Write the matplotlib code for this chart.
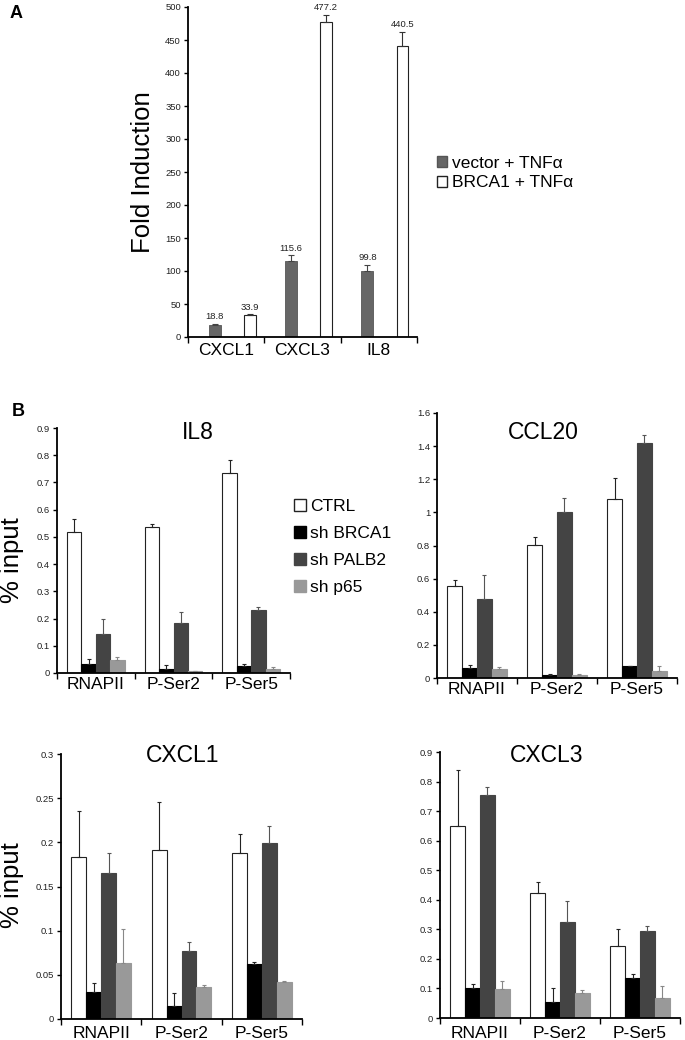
import numpy as np
import matplotlib.pyplot as plt
from matplotlib.patches import Patch
from matplotlib.ticker import FuncFormatter

plt.rcParams['font.family'] = ['Liberation Sans', 'DejaVu Sans']

# ---- Panel A: fold induction ----
genes_a = ['CXCL1', 'CXCL3', 'IL8']
vector_tnf = [18.8, 115.6, 99.8]
vector_err = [1.4, 8, 10]
brca1_tnf = [33.9, 477.2, 440.5]
brca1_err = [0.5, 11, 22]

# ---- Panel B: ChIP % input ----
targets = ['RNAPII', 'P-Ser2', 'P-Ser5']
series_b = ['CTRL', 'sh BRCA1', 'sh PALB2', 'sh p65']

il8_vals = [[0.519, 0.537, 0.736],
            [0.033, 0.013, 0.026],
            [0.143, 0.182, 0.231],
            [0.049, 0.006, 0.015]]
il8_err = [[0.045, 0.010, 0.046],
           [0.018, 0.015, 0.006],
           [0.057, 0.043, 0.012],
           [0.011, 0.003, 0.008]]

ccl20_vals = [[0.553, 0.806, 1.083],
              [0.058, 0.016, 0.070],
              [0.477, 1.005, 1.420],
              [0.054, 0.016, 0.042]]
ccl20_err = [[0.039, 0.048, 0.127],
             [0.020, 0.008, 0.004],
             [0.145, 0.080, 0.045],
             [0.014, 0.006, 0.030]]

cxcl1_vals = [[0.183, 0.191, 0.188],
              [0.031, 0.015, 0.062],
              [0.165, 0.077, 0.199],
              [0.063, 0.036, 0.042]]
cxcl1_err = [[0.052, 0.055, 0.021],
             [0.010, 0.014, 0.002],
             [0.023, 0.010, 0.020],
             [0.039, 0.003, 0.001]]

cxcl3_vals = [[0.648, 0.424, 0.244],
              [0.102, 0.053, 0.137],
              [0.755, 0.325, 0.294],
              [0.097, 0.085, 0.068]]
cxcl3_err = [[0.190, 0.037, 0.057],
             [0.012, 0.050, 0.013],
             [0.026, 0.070, 0.018],
             [0.028, 0.011, 0.040]]

W, H = 685, 1040
fig = plt.figure(figsize=(W / 100, H / 100), dpi=100)


def px_axes(x0, y0, x1, y1):
    return fig.add_axes([x0 / W, 1 - y1 / H, (x1 - x0) / W, (y1 - y0) / H])


def style(ax, labels, ymax, step, xpad=3):
    ax.spines[['top', 'right']].set_visible(False)
    ax.spines[['left', 'bottom']].set_linewidth(1.3)
    ax.set_ylim(0, ymax)
    ax.set_yticks(np.round(np.arange(0, ymax + step / 2, step), 4))
    ax.yaxis.set_major_formatter(FuncFormatter(lambda v, p: f'{v:g}'))
    ax.tick_params(axis='y', labelsize=6.8, length=3, width=1, pad=2, labelcolor='#222222')
    ax.set_xlim(-0.5, 2.5)
    ax.set_xticks([-0.5, 0.5, 1.5, 2.5])
    ax.set_xticklabels([])
    ax.set_xticks(range(3), labels, minor=True)
    ax.tick_params(axis='x', which='major', length=4, width=1)
    ax.tick_params(axis='x', which='minor', length=0, labelsize=12.5, pad=xpad)


# Panel A
axa = px_axes(188, 7, 417, 337)
xa = np.arange(3)
w_a = 0.155
axa.bar(xa - 0.15, vector_tnf, w_a, color='#666666', edgecolor='#555555', linewidth=0.6,
        yerr=[np.zeros(3), vector_err], error_kw=dict(ecolor='#444444', elinewidth=0.8, capsize=2, capthick=0.8))
axa.bar(xa + 0.31, brca1_tnf, w_a, color='white', edgecolor='#222222', linewidth=0.8,
        yerr=[np.zeros(3), brca1_err], error_kw=dict(ecolor='#333333', elinewidth=0.8, capsize=2, capthick=0.8))
for x, v, e in zip(xa - 0.15, vector_tnf, vector_err):
    axa.annotate(f'{v:.1f}', (x, v + e), xytext=(0, 2), textcoords='offset points',
                 ha='center', va='bottom', fontsize=6.8, color='#222222')
for x, v, e in zip(xa + 0.31, brca1_tnf, brca1_err):
    axa.annotate(f'{v:.1f}', (x, v + e), xytext=(0, 2), textcoords='offset points',
                 ha='center', va='bottom', fontsize=6.8, color='#222222')
style(axa, genes_a, 500, 50, xpad=4)
axa.set_ylabel('Fold Induction', fontsize=18.5, labelpad=7)

handles_a = [Patch(facecolor='#666666', edgecolor='#555555', label='vector + TNFα'),
             Patch(facecolor='white', edgecolor='#222222', label='BRCA1 + TNFα')]
fig.legend(handles=handles_a, loc='center left', bbox_to_anchor=(428 / W, 1 - 173 / H),
           frameon=False, fontsize=12.5, handlelength=0.6, handleheight=0.6,
           handletextpad=0.3, labelspacing=0.25, borderpad=0)

# Panel B
colors_b = ['white', 'black', '#444444', '#999999']
edges_b = ['#222222', 'black', '#444444', '#999999']
ecolors_b = ['#222222', '#222222', '#555555', '#888888']
w_b = 0.185
offsets = (np.arange(4) - 1.5) * w_b


def chip_panel(rect, title, vals, errs, ymax, step, tx, ty, xpad):
    ax = px_axes(*rect)
    for i in range(4):
        ax.bar(xa + offsets[i], vals[i], w_b, color=colors_b[i], edgecolor=edges_b[i], linewidth=0.8,
               yerr=[np.zeros(3), errs[i]],
               error_kw=dict(ecolor=ecolors_b[i], elinewidth=0.8, capsize=1.5, capthick=0.8))
    style(ax, targets, ymax, step, xpad)
    fig.text(tx / W, 1 - ty / H, title, ha='center', va='center', fontsize=16.5)
    return ax


ax_il8 = chip_panel((57, 428, 290, 673), 'IL8', il8_vals, il8_err, 0.9, 0.1, 198, 432, 3)
ax_ccl = chip_panel((437, 413, 677, 678), 'CCL20', ccl20_vals, ccl20_err, 1.6, 0.2, 543, 432, 3)
ax_cx1 = chip_panel((61, 754, 302, 1019), 'CXCL1', cxcl1_vals, cxcl1_err, 0.3, 0.05, 183, 755, 5)
ax_cx3 = chip_panel((440, 752, 680, 1018), 'CXCL3', cxcl3_vals, cxcl3_err, 0.9, 0.1, 547, 756, 6)

fig.text(12 / W, 1 - 560 / H, '% input', rotation=90, ha='center', va='center', fontsize=18.5)
fig.text(12 / W, 1 - 885 / H, '% input', rotation=90, ha='center', va='center', fontsize=18.5)

handles_b = [Patch(facecolor=c, edgecolor=e, label=l) for c, e, l in zip(colors_b, edges_b, series_b)]
fig.legend(handles=handles_b, loc='center left', bbox_to_anchor=(285 / W, 1 - 547 / H),
           frameon=False, fontsize=12.5, handlelength=0.7, handleheight=0.7,
           handletextpad=0.25, labelspacing=0.68, borderpad=0)

fig.text(10 / W, 1 - 13 / H, 'A', fontsize=13, fontweight='bold', ha='left', va='center')
fig.text(12 / W, 1 - 412 / H, 'B', fontsize=13, fontweight='bold', ha='left', va='center')

fig.savefig('out.png', dpi=100)
